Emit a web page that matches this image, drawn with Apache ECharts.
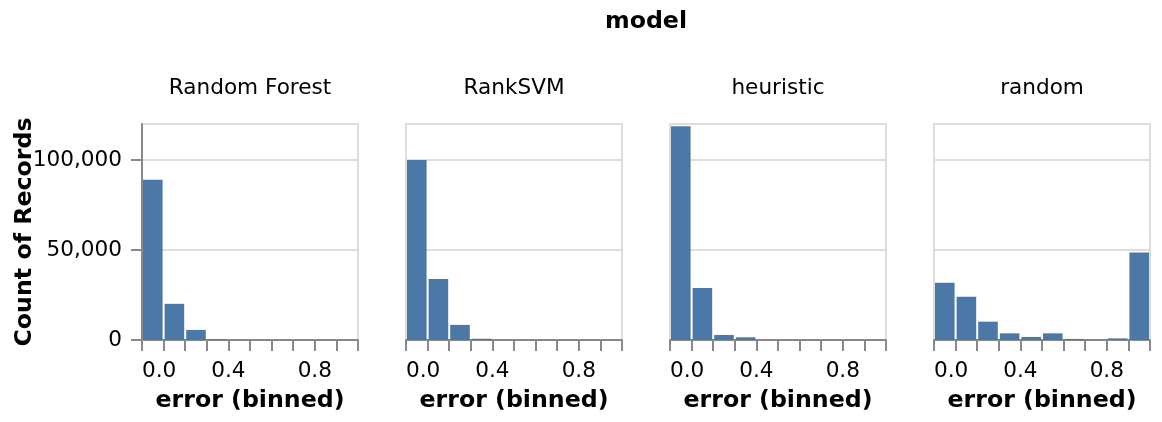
<!DOCTYPE html>
<html>
<head>
<meta charset="utf-8">
<script src="https://cdn.jsdelivr.net/npm/echarts@6/dist/echarts.min.js"></script>
<style>
  html, body { margin: 0; padding: 0; background: #fff; }
  #chart { width: 1162px; height: 422px; }
</style>
</head>
<body>
<div id="chart"></div>
<script>
// bins of width 0.1 on the error axis
const binStarts = [0, 0.1, 0.2, 0.3, 0.4, 0.5, 0.6, 0.7, 0.8, 0.9]
const models = ['Random Forest', 'RankSVM', 'heuristic', 'random']
const randomForest = [89000, 20100, 5600, 400, 0, 0, 0, 0, 0, 0]
const rankSVM = [100000, 33900, 8400, 700, 0, 0, 0, 0, 0, 0]
const heuristic = [118800, 28900, 2800, 1500, 0, 0, 0, 0, 0, 0]
const random = [31800, 24000, 10200, 3700, 1700, 3700, 600, 100, 900, 48600]
const counts = [randomForest, rankSVM, heuristic, random]
const xTickLabels = ['0.0', '0.4', '0.8']

const FONT = 'DejaVu Sans'
const LABEL_SIZE = 21.6
const TITLE_SIZE = 23.7
const panelLeft = [142, 406, 670, 934]
const panelW = 216
const panelTop = 124
const panelH = 216

const grids = [], xAxes = [], yAxes = [], series = [], graphics = []

graphics.push({
  type: 'text',
  position: [646, 22],
  style: { text: 'model', font: 'bold ' + TITLE_SIZE + 'px "' + FONT + '"', fill: '#000',
    textAlign: 'center', textVerticalAlign: 'middle' },
})
graphics.push({
  type: 'text',
  position: [25, 232],
  rotation: Math.PI / 2,
  style: { text: 'Count of Records', font: 'bold ' + TITLE_SIZE + 'px "' + FONT + '"', fill: '#000',
    textAlign: 'center', textVerticalAlign: 'middle' },
})

models.forEach((name, i) => {
  graphics.push({
    type: 'text',
    position: [panelLeft[i] + panelW / 2, 88],
    style: { text: name, font: LABEL_SIZE + 'px "' + FONT + '"', fill: '#000',
      textAlign: 'center', textVerticalAlign: 'middle' },
  })
  grids.push({
    left: panelLeft[i], top: panelTop, width: panelW, height: panelH,
    show: true, borderColor: '#ddd', borderWidth: 2, backgroundColor: 'transparent',
  })
  xAxes.push({
    gridIndex: i,
    type: 'value',
    min: 0, max: 1, interval: 0.1,
    name: 'error (binned)',
    nameLocation: 'middle',
    nameGap: 49,
    nameTextStyle: { fontFamily: FONT, fontWeight: 'bold', fontSize: TITLE_SIZE, color: '#000' },
    axisLine: { show: true, onZero: false, lineStyle: { color: '#888', width: 2 } },
    axisTick: { show: true, length: 11, lineStyle: { color: '#888', width: 2 } },
    splitLine: { show: false },
    axisLabel: {
      margin: 20,
      fontFamily: FONT, fontSize: LABEL_SIZE, color: '#000',
      alignMinLabel: 'left',
      formatter: v => {
        const s = (Math.round(v * 10) / 10).toFixed(1)
        return xTickLabels.indexOf(s) >= 0 && Math.round(v * 10) < 10 ? s : ''
      },
    },
  })
  yAxes.push({
    gridIndex: i,
    type: 'value',
    min: 0, max: 120000, interval: 50000,
    axisLine: { show: i === 0, lineStyle: { color: '#888', width: 2 } },
    axisTick: { show: i === 0, length: 11, lineStyle: { color: '#888', width: 2 } },
    splitLine: { show: true, lineStyle: { color: '#ddd', width: 2 } },
    axisLabel: {
      show: i === 0,
      margin: 20,
      showMaxLabel: false,
      fontFamily: FONT, fontSize: LABEL_SIZE, color: '#000',
      formatter: v => v.toLocaleString('en-US'),
    },
  })
  series.push({
    type: 'custom',
    xAxisIndex: i,
    yAxisIndex: i,
    data: binStarts.map((b, k) => [b, counts[i][k]]),
    renderItem: (params, api) => {
      const x0 = api.value(0)
      const y = api.value(1)
      if (!y) return
      const p0 = api.coord([x0, y])
      const p1 = api.coord([x0 + 0.1, 0])
      return {
        type: 'rect',
        shape: { x: p0[0] + 1, y: p0[1], width: p1[0] - p0[0] - 2, height: p1[1] - p0[1] },
        style: { fill: '#4c78a8' },
      }
    },
  })
})

const chart = echarts.init(document.getElementById('chart'))
chart.setOption({
  animation: false,
  backgroundColor: '#fff',
  grid: grids,
  xAxis: xAxes,
  yAxis: yAxes,
  series: series,
  graphic: graphics,
})
</script>
</body>
</html>
